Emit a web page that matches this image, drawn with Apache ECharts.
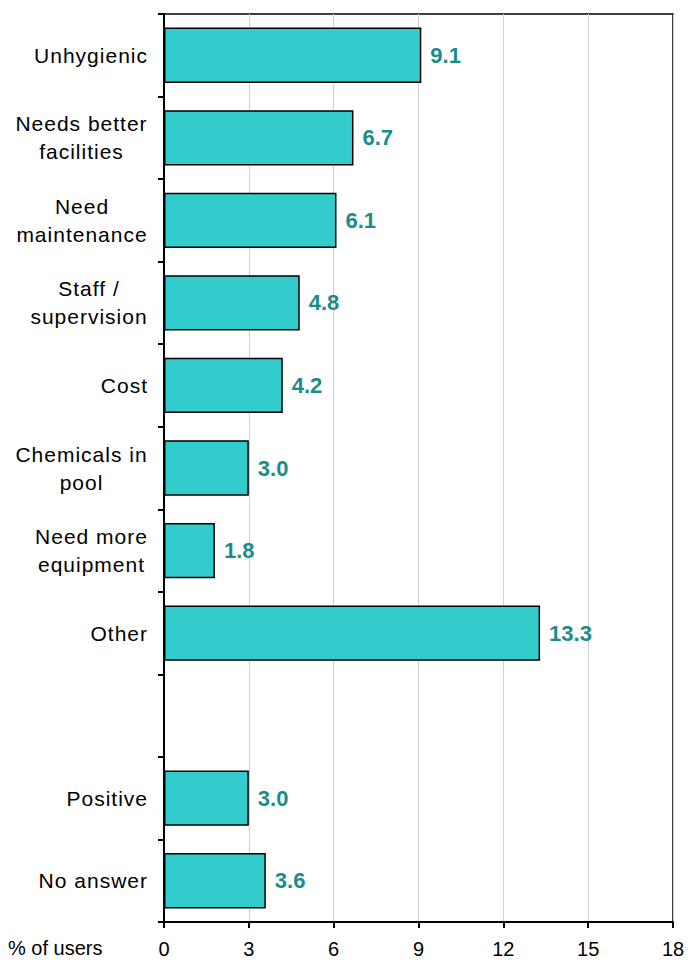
<!DOCTYPE html>
<html>
<head>
<meta charset="utf-8">
<script src="https://cdn.jsdelivr.net/npm/echarts@6/dist/echarts.min.js"></script>
<style>html,body{margin:0;padding:0;background:#fff}#c{width:688px;height:960px}</style>
</head>
<body>
<div id="c"></div>
<script>
const categories = ["Unhygienic", "Needs better\nfacilities", "Need\nmaintenance", "Staff /\nsupervision", "Cost", "Chemicals in\npool", "Need more\nequipment", "Other", "", "Positive", "No answer"];
const values = [9.1, 6.7, 6.1, 4.8, 4.2, 3.0, 1.8, 13.3, null, 3.0, 3.6];
const xTicks = [0, 3, 6, 9, 12, 15, 18];
const axisTitle = "% of users";

const FAM = '"Liberation Sans", Arial, sans-serif';
const CAT_SIZE = 21;
const SPACING = 1;
const ctx = document.createElement('canvas').getContext('2d');
ctx.font = CAT_SIZE + 'px ' + FAM;
function blockWidth(label) {
  const lines = label.split('\n');
  return Math.ceil(Math.max.apply(null, lines.map(l => ctx.measureText(l).width + SPACING * l.length)));
}
const rich = {};
categories.forEach(c => {
  if (c.indexOf('\n') >= 0) {
    const w = blockWidth(c);
    rich['c' + w] = {width: w, align: 'center', fontSize: CAT_SIZE, lineHeight: 28, color: '#000', fontFamily: FAM};
  }
});

const chart = echarts.init(document.getElementById('c'), null, {renderer: 'svg'});
chart.setOption({
  animation: false,
  grid: {left: 164, right: 15, top: 14, bottom: 38, show: true, borderColor: '#000', borderWidth: 1.5, backgroundColor: 'transparent'},
  xAxis: {
    type: 'value', min: xTicks[0], max: xTicks[xTicks.length - 1], interval: 3,
    axisLine: {show: true, lineStyle: {color: '#000', width: 2}},
    axisTick: {show: true, inside: false, length: 6, lineStyle: {color: '#000', width: 2}},
    axisLabel: {color: '#000', fontSize: 20, fontFamily: FAM, margin: 17},
    splitLine: {show: true, lineStyle: {color: '#d0d0d0', width: 1}}
  },
  yAxis: {
    type: 'category', data: categories, inverse: true,
    axisLine: {show: true, lineStyle: {color: '#000', width: 2}},
    axisTick: {show: true, length: 6, lineStyle: {color: '#000', width: 2}},
    axisLabel: {
      color: '#000', fontSize: CAT_SIZE, fontFamily: FAM, margin: 16, lineHeight: 28,
      formatter: function (v) {
        const lines = v.split('\n');
        if (lines.length === 1) return v;
        const w = blockWidth(v);
        return lines.map(l => '{c' + w + '|' + l + '}').join('\n');
      },
      rich: rich
    }
  },
  series: [{
    type: 'bar', data: values, barCategoryGap: '33%',
    itemStyle: {color: '#33CCCC', borderColor: '#000', borderWidth: 1.5},
    label: {show: true, position: 'right', distance: 9, color: '#1A8C8C', fontWeight: 'bold', fontSize: 22, fontFamily: FAM,
      formatter: p => p.value == null ? '' : p.value.toFixed(1)}
  }],
  graphic: [{type: 'text', left: 8, top: 938, style: {text: axisTitle, fill: '#000', font: '20px ' + FAM}}]
});

// slightly widen category label tracking to match the reference lettering
const catLines = new Set();
categories.forEach(c => c.split('\n').forEach(l => { if (l) catLines.add(l); }));
document.querySelectorAll('#c svg text').forEach(t => {
  if (catLines.has(t.textContent)) t.style.letterSpacing = SPACING + 'px';
});
</script>
</body>
</html>
